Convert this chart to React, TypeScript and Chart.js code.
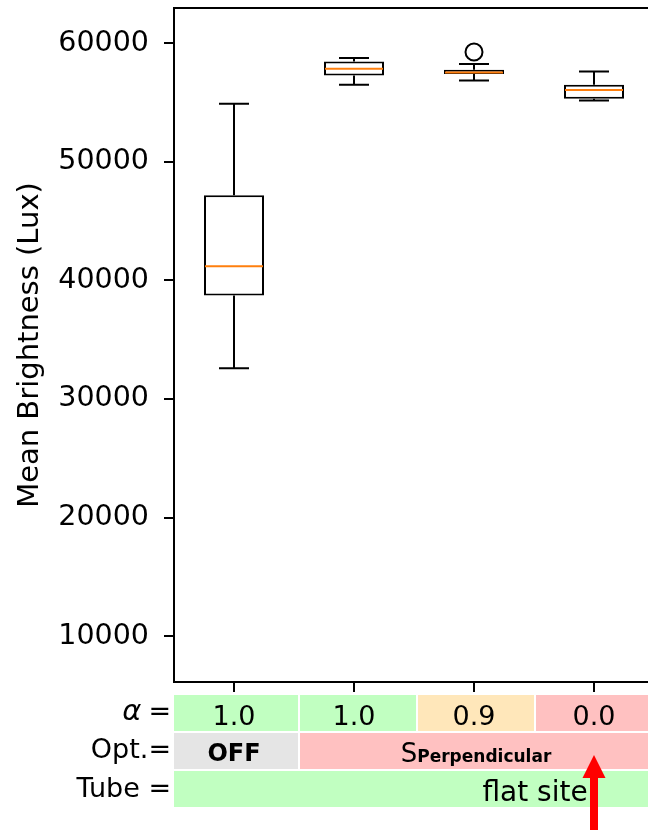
import React, { useEffect, useRef } from 'react';
import { Chart, registerables } from 'chart.js';

Chart.register(...registerables);

// ---- data ----
const groups = ['1', '2', '3', '4'];
const whiskerLow = [32590, 56500, 56860, 55170];
const q1 = [38720, 57280, 57400, 55320];
const medians = [41200, 57850, 57540, 56050];
const q3 = [47190, 58460, 57760, 56500];
const whiskerHigh = [54900, 58750, 58245, 57620];
const outliers: number[][] = [[], [], [59260], []];
const yTicks = [10000, 20000, 30000, 40000, 50000, 60000];
const yMin = 6140;
const yMax = 62970;

const rowLabels = ['α', 'Opt.=', 'Tube ='];
const alphaValues = ['1.0', '1.0', '0.9', '0.0'];
const alphaColors = ['#c1ffc1', '#c1ffc1', '#ffe7ba', '#ffc1c1'];
const optLabels = ['OFF', 'S', 'Perpendicular'];
const optColors = ['#e5e5e5', '#ffc1c1'];
const tubeLabel = 'flat site';
const tubeColor = '#c1ffc1';

const FONT = '"DejaVu Sans", sans-serif';
const LW = 2;

const boxPlugin = {
  id: 'boxExtras',
  afterDatasetsDraw(chart: any) {
    const { ctx, chartArea } = chart;
    const x = chart.scales.x;
    const y = chart.scales.y;
    ctx.save();
    // top and right spines
    ctx.strokeStyle = '#000';
    ctx.lineWidth = LW;
    ctx.beginPath();
    ctx.moveTo(chartArea.left - 1, chartArea.top);
    ctx.lineTo(chartArea.right, chartArea.top);
    ctx.moveTo(chartArea.right, chartArea.top);
    ctx.lineTo(chartArea.right, chartArea.bottom);
    ctx.stroke();

    const capHalf = 15;
    const boxHalf = 30;
    groups.forEach((_, i) => {
      const cx = x.getPixelForValue(i);
      ctx.strokeStyle = '#000';
      ctx.lineWidth = LW;
      ctx.beginPath();
      // whiskers
      ctx.moveTo(cx, y.getPixelForValue(q1[i]));
      ctx.lineTo(cx, y.getPixelForValue(whiskerLow[i]));
      ctx.moveTo(cx, y.getPixelForValue(q3[i]));
      ctx.lineTo(cx, y.getPixelForValue(whiskerHigh[i]));
      // caps
      ctx.moveTo(cx - capHalf, y.getPixelForValue(whiskerLow[i]));
      ctx.lineTo(cx + capHalf, y.getPixelForValue(whiskerLow[i]));
      ctx.moveTo(cx - capHalf, y.getPixelForValue(whiskerHigh[i]));
      ctx.lineTo(cx + capHalf, y.getPixelForValue(whiskerHigh[i]));
      ctx.stroke();
      // median
      ctx.strokeStyle = '#ff7f0e';
      ctx.lineWidth = LW;
      ctx.beginPath();
      const my = y.getPixelForValue(medians[i]);
      ctx.moveTo(cx - boxHalf + 1, my);
      ctx.lineTo(cx + boxHalf - 1, my);
      ctx.stroke();
      // outliers
      ctx.strokeStyle = '#000';
      ctx.lineWidth = LW;
      outliers[i].forEach((v) => {
        ctx.beginPath();
        ctx.arc(cx, y.getPixelForValue(v), 8.5, 0, Math.PI * 2);
        ctx.stroke();
      });
    });
    ctx.restore();
  },
  afterDraw(chart: any) {
    const { ctx, chartArea } = chart;
    const x = chart.scales.x;
    ctx.save();
    const left = chartArea.left;
    const right = chartArea.right + 300;
    const edges = [left, 299, 417, 535, right];
    const rows = [
      [695, 731],
      [733, 769],
      [771, 807],
    ];
    // alpha row
    for (let i = 0; i < 4; i++) {
      ctx.fillStyle = alphaColors[i];
      const x0 = i === 0 ? edges[0] : edges[i] + 1;
      const x1 = i === 3 ? edges[4] : edges[i + 1] - 1;
      ctx.fillRect(x0, rows[0][0], x1 - x0, rows[0][1] - rows[0][0]);
    }
    // opt row
    ctx.fillStyle = optColors[0];
    ctx.fillRect(edges[0], rows[1][0], edges[1] - 1 - edges[0], rows[1][1] - rows[1][0]);
    ctx.fillStyle = optColors[1];
    ctx.fillRect(edges[1] + 1, rows[1][0], edges[4] - edges[1] - 1, rows[1][1] - rows[1][0]);
    // tube row
    ctx.fillStyle = tubeColor;
    ctx.fillRect(edges[0], rows[2][0], edges[4] - edges[0], rows[2][1] - rows[2][0]);

    ctx.fillStyle = '#000';
    ctx.textBaseline = 'alphabetic';
    ctx.textAlign = 'center';
    ctx.font = `27px ${FONT}`;
    alphaValues.forEach((t, i) => {
      ctx.fillText(t, x.getPixelForValue(i), 725);
    });
    ctx.font = `bold 24px ${FONT}`;
    ctx.fillText(optLabels[0], x.getPixelForValue(0), 761);
    // S_Perpendicular
    ctx.font = `26px ${FONT}`;
    const sW = ctx.measureText(optLabels[1]).width;
    ctx.font = `bold 17px ${FONT}`;
    const pW = ctx.measureText(optLabels[2]).width;
    const center = 476;
    const start = center - (sW + pW) / 2;
    ctx.textAlign = 'left';
    ctx.font = `26px ${FONT}`;
    ctx.fillText(optLabels[1], start, 762);
    ctx.font = `bold 17px ${FONT}`;
    ctx.fillText(optLabels[2], start + sW, 762);
    // tube
    ctx.textAlign = 'center';
    ctx.font = `28px ${FONT}`;
    ctx.fillText(tubeLabel, 535, 801);

    // row labels
    ctx.textAlign = 'right';
    ctx.font = `27px ${FONT}`;
    ctx.fillText('=', 171, 720);
    const eqW = ctx.measureText('=').width;
    ctx.font = `oblique 29px ${FONT}`;
    ctx.fillText(rowLabels[0], 171 - eqW - 7, 720);
    ctx.font = `27px ${FONT}`;
    ctx.fillText(rowLabels[1], 171, 758);
    ctx.fillText(rowLabels[2], 171, 797);

    // red arrow
    const ax = x.getPixelForValue(3);
    ctx.fillStyle = '#ff0000';
    ctx.beginPath();
    ctx.moveTo(ax, 755);
    ctx.lineTo(ax + 11.5, 778);
    ctx.lineTo(ax + 4, 778);
    ctx.lineTo(ax + 4, 840);
    ctx.lineTo(ax - 4, 840);
    ctx.lineTo(ax - 4, 778);
    ctx.lineTo(ax - 11.5, 778);
    ctx.closePath();
    ctx.fill();
    ctx.restore();
  },
};

export default function App() {
  const canvasRef = useRef<HTMLCanvasElement | null>(null);
  useEffect(() => {
    if (!canvasRef.current) return;
    const chart = new Chart(canvasRef.current, {
      type: 'bar',
      data: {
        labels: groups,
        datasets: [
          {
            data: q1.map((v, i) => [v, q3[i]]) as any,
            backgroundColor: '#ffffff',
            borderColor: '#000000',
            borderWidth: LW,
            borderSkipped: false,
            barPercentage: 0.5,
            categoryPercentage: 1,
          },
        ],
      },
      options: {
        responsive: false,
        animation: false,
        devicePixelRatio: 1,
        layout: { padding: { left: 0, top: 8, right: 46, bottom: 148 } },
        plugins: { legend: { display: false }, tooltip: { enabled: false } },
        scales: {
          x: {
            type: 'category',
            offset: true,
            grid: {
              offset: false,
              drawOnChartArea: false,
              drawTicks: true,
              tickLength: 10,
              color: '#000',
              lineWidth: LW,
            },
            border: { display: true, color: '#000', width: LW },
            ticks: { display: false },
            afterFit: (s: any) => {
              s.height = 0;
              s.paddingLeft = 0;
              s.paddingRight = 0;
              s.paddingTop = 0;
              s.paddingBottom = 0;
            },
          },
          y: {
            type: 'linear',
            min: yMin,
            max: yMax,
            afterBuildTicks: (axis: any) => {
              axis.ticks = yTicks.map((v) => ({ value: v }));
            },
            afterFit: (s: any) => {
              s.width = 174;
              s.paddingTop = 0;
              s.paddingBottom = 0;
              s.paddingLeft = 0;
              s.paddingRight = 0;
            },
            grid: {
              drawOnChartArea: false,
              drawTicks: true,
              tickLength: 10,
              color: '#000',
              lineWidth: LW,
            },
            border: { display: true, color: '#000', width: LW },
            ticks: {
              color: '#000',
              font: { family: FONT, size: 28.5 },
              padding: 15,
              callback: (v: any) => String(v),
            },
            title: {
              display: true,
              text: 'Mean Brightness (Lux)',
              color: '#000',
              font: { family: FONT, size: 29 },
              padding: { top: 13.5, bottom: 0 },
            },
          },
        },
      },
      plugins: [boxPlugin],
    });
    return () => chart.destroy();
  }, []);
  return (
    <div
      style={{
        position: 'fixed',
        left: 0,
        top: 0,
        width: 648,
        height: 830,
        overflow: 'hidden',
        background: '#fff',
      }}
    >
      <canvas ref={canvasRef} width={700} height={830} style={{ display: 'block' }} />
    </div>
  );
}
